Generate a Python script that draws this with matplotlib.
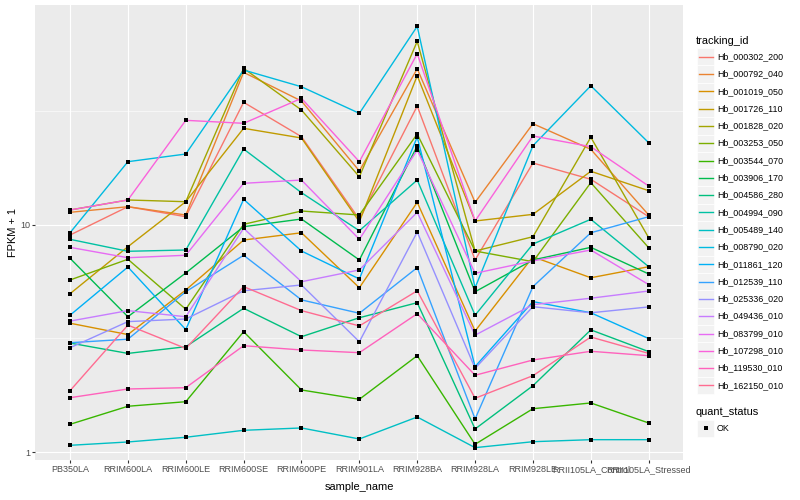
import matplotlib
matplotlib.use('Agg')
import matplotlib.pyplot as plt
from matplotlib.patches import Rectangle
from matplotlib.lines import Line2D
from matplotlib.ticker import FixedLocator, NullFormatter
import numpy as np

plt.rcParams['font.family'] = ['Liberation Sans', 'DejaVu Sans']

samples = ["PB350LA", "RRIM600LA", "RRIM600LE", "RRIM600SE", "RRIM600PE", "RRIM901LA",
           "RRIM928BA", "RRIM928LA", "RRIM928LE", "RRII105LA_Control", "RRII105LA_Stressed"]

tracking_ids = ["Hb_000302_200", "Hb_000792_040", "Hb_001019_050", "Hb_001726_110",
                "Hb_001828_020", "Hb_003253_050", "Hb_003544_070", "Hb_003906_170",
                "Hb_004586_280", "Hb_004994_090", "Hb_005489_140", "Hb_008790_020",
                "Hb_011861_120", "Hb_012539_110", "Hb_025336_020", "Hb_049436_010",
                "Hb_083799_010", "Hb_107298_010", "Hb_119530_010", "Hb_162150_010"]

colors = ["#F8766D", "#EA8331", "#D89000", "#C09B00", "#A3A500", "#7CAE00", "#39B600",
          "#00BB4E", "#00BF7D", "#00C1A3", "#00BFC4", "#00BAE0", "#00B0F6", "#35A2FF",
          "#9590FF", "#C77CFF", "#E76BF3", "#FA62DB", "#FF62BC", "#FF6C91"]

# FPKM + 1 per sample (same order as samples)
hb_000302_200 = [8.99, 11.97, 10.82, 34.36, 24.28, 10.54, 33.08, 6.99, 18.61, 15.79, 10.82]
hb_000792_040 = [11.31, 11.97, 11.01, 46.5, 34.8, 17.17, 48.2, 12.51, 27.68, 21.37, 11.01]
hb_001019_050 = [3.69, 3.29, 5.16, 8.55, 9.20, 5.28, 12.51, 3.41, 7.22, 5.84, 6.53]
hb_001726_110 = [4.97, 7.99, 12.59, 26.42, 23.96, 10.29, 44.95, 10.36, 11.08, 17.12, 14.07]
hb_001828_020 = [11.58, 12.81, 12.59, 48.4, 31.78, 16.2, 63.6, 7.65, 8.84, 24.13, 8.75]
hb_003253_050 = [5.71, 7.04, 4.25, 10.02, 11.46, 11.01, 24.94, 7.65, 6.87, 15.26, 7.91]
hb_003544_070 = [1.329, 1.595, 1.670, 3.387, 1.880, 1.711, 2.658, 1.086, 1.556, 1.649, 1.347]
hb_003906_170 = [7.11, 3.94, 6.13, 9.78, 10.57, 6.99, 22.1, 5.07, 6.99, 7.94, 6.07]
hb_004586_280 = [3.02, 2.72, 2.91, 4.29, 3.22, 3.90, 4.54, 1.268, 1.963, 3.45, 2.77]
hb_004994_090 = [8.61, 7.63, 7.73, 21.43, 13.79, 9.39, 15.67, 4.00, 8.21, 10.54, 6.53]
hb_005489_140 = [1.075, 1.112, 1.166, 1.251, 1.281, 1.146, 1.431, 1.050, 1.115, 1.138, 1.138]
hb_008790_020 = [9.20, 18.86, 20.38, 47.6, 40.2, 30.74, 74.0, 5.28, 22.16, 40.6, 22.84]
hb_011861_120 = [4.00, 6.51, 3.46, 12.9, 7.65, 5.77, 24.2, 2.38, 4.59, 4.10, 3.16]
hb_012539_110 = [3.03, 3.14, 5.07, 7.33, 4.67, 4.08, 6.47, 1.403, 5.34, 9.20, 10.82]
hb_025336_020 = [2.88, 3.75, 3.85, 5.12, 5.43, 3.06, 9.27, 2.34, 4.36, 4.10, 4.35]
hb_049436_010 = [3.77, 4.19, 3.94, 9.62, 5.61, 6.32, 11.31, 3.27, 4.45, 4.75, 5.11]
hb_083799_010 = [7.94, 7.15, 7.33, 15.16, 15.67, 8.61, 21.22, 6.11, 6.92, 7.73, 5.45]
hb_107298_010 = [11.58, 12.81, 28.64, 27.79, 35.77, 18.86, 56.13, 10.36, 24.45, 21.94, 14.75]
hb_119530_010 = [1.739, 1.899, 1.924, 2.940, 2.816, 2.740, 4.063, 2.181, 2.545, 2.779, 2.658]
hb_162150_010 = [1.866, 3.62, 2.86, 5.34, 4.19, 3.59, 5.12, 1.729, 2.172, 3.21, 2.72]

series = [hb_000302_200, hb_000792_040, hb_001019_050, hb_001726_110, hb_001828_020,
          hb_003253_050, hb_003544_070, hb_003906_170, hb_004586_280, hb_004994_090,
          hb_005489_140, hb_008790_020, hb_011861_120, hb_012539_110, hb_025336_020,
          hb_049436_010, hb_083799_010, hb_107298_010, hb_119530_010, hb_162150_010]

W, H = 800, 500
fig = plt.figure(figsize=(W / 100, H / 100), dpi=100)
fig.patch.set_facecolor('white')

# panel in pixel coords
pl, pr, pt, pb = 35.3, 683.4, 5.2, 460.0
ax = fig.add_axes([pl / W, 1 - pb / H, (pr - pl) / W, (pb - pt) / H])
ax.set_facecolor('#EBEBEB')

x = np.arange(len(samples))
for vals, c in zip(series, colors):
    ax.plot(x, vals, color=c, lw=1.0, solid_capstyle='butt', zorder=2)
for vals in series:
    ax.plot(x, vals, linestyle='none', marker='s', markersize=2.9, color='black',
            markeredgewidth=0, zorder=3)

ax.set_yscale('log')
ax.set_ylim(10 ** -0.033, 10 ** 1.962)
ax.set_xlim(-0.6, len(samples) - 1 + 0.6)

ax.set_yticks([1, 10])
ax.set_yticklabels(['1', '10'])
ax.yaxis.set_minor_locator(FixedLocator([10 ** 0.5, 10 ** 1.5]))
ax.yaxis.set_minor_formatter(NullFormatter())
ax.set_xticks(x)
ax.set_xticklabels(samples)

ax.grid(which='major', color='white', lw=0.8)
ax.grid(which='minor', axis='y', color='white', lw=0.4)
ax.set_axisbelow(True)
for s in ax.spines.values():
    s.set_visible(False)
ax.tick_params(which='major', length=2.0, width=0.8, color='#333333',
               labelcolor='#4D4D4D', labelsize=6.5, pad=1.6)
ax.tick_params(which='minor', length=0)

ax.set_xlabel('sample_name', fontsize=7.9, color='black', labelpad=5.5)
ax.set_ylabel('FPKM + 1', fontsize=7.9, color='black', labelpad=1.5)

# manual legends (ggplot style)
def fx(px):
    return px / W

def fy(py):
    return 1 - py / H

fig.text(fx(696), fy(40.5), 'tracking_id', fontsize=7.9, va='center', ha='left')
key_w, key_h = 17.3, 17.3
row0 = 56.7
step = 17.3
for i, (tid, c) in enumerate(zip(tracking_ids, colors)):
    yc = row0 + i * step
    fig.patches.append(Rectangle((fx(697), fy(yc + key_h / 2)), key_w / W, key_h / H,
                                 transform=fig.transFigure, facecolor='#F2F2F2',
                                 edgecolor='white', lw=0.5))
    fig.lines.append(Line2D([fx(698.7), fx(712.6)], [fy(yc), fy(yc)],
                            transform=fig.transFigure, color=c, lw=1.0))
    fig.text(fx(717), fy(yc), tid, fontsize=6.4, va='center', ha='left')

fig.text(fx(696), fy(412.3), 'quant_status', fontsize=7.9, va='center', ha='left')
yc = 428.3
fig.patches.append(Rectangle((fx(697), fy(yc + key_h / 2)), key_w / W, key_h / H,
                             transform=fig.transFigure, facecolor='#F2F2F2',
                             edgecolor='white', lw=0.5))
fig.lines.append(Line2D([fx(705.6)], [fy(yc)], transform=fig.transFigure, marker='s',
                        markersize=2.9, color='black', markeredgewidth=0, linestyle='none'))
fig.text(fx(717), fy(yc), 'OK', fontsize=6.4, va='center', ha='left')

fig.savefig('out.png', dpi=100)
